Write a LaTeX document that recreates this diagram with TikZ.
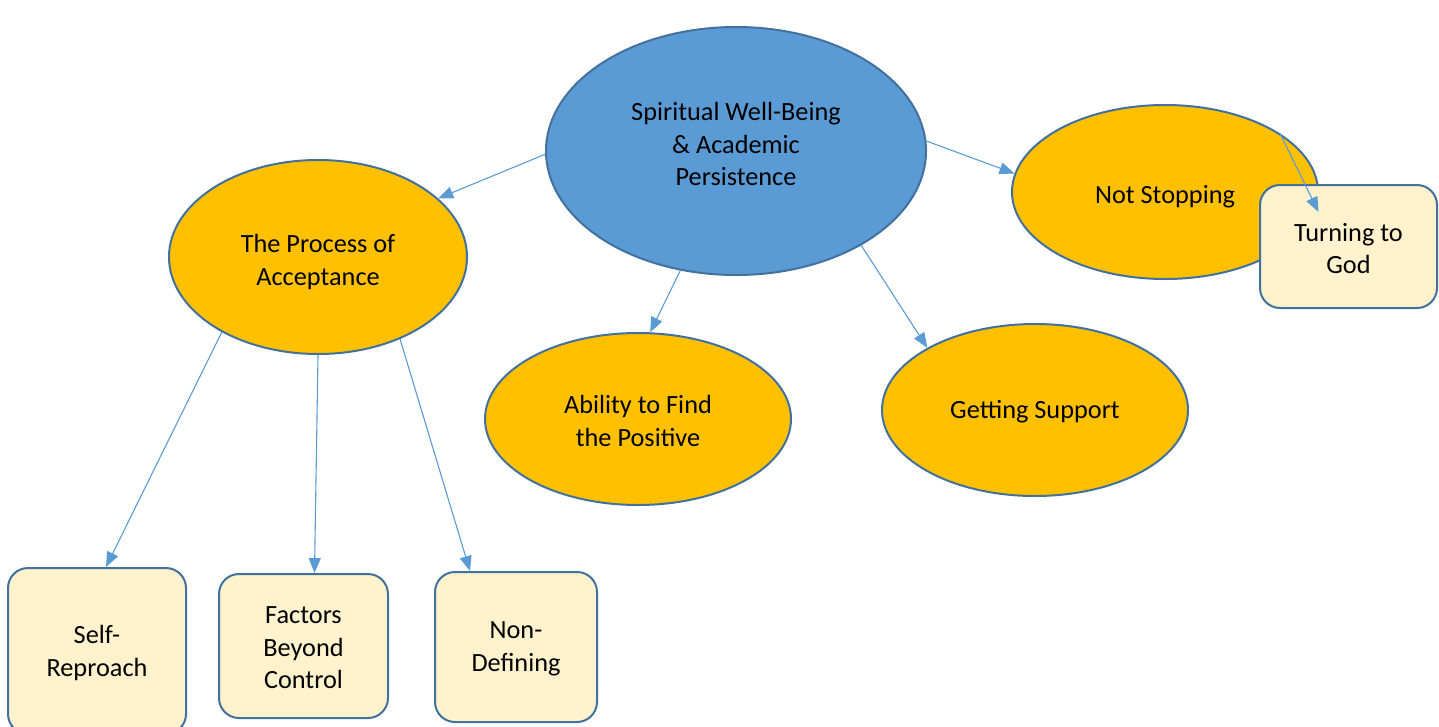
\documentclass[tikz,border=0pt]{standalone}
\usepackage{fontspec}
\setmainfont{Carlito}
\usetikzlibrary{shapes.geometric,arrows.meta}
\definecolor{edgeblue}{HTML}{41719C}
\definecolor{arrowblue}{HTML}{5B9BD5}
\definecolor{centerblue}{HTML}{5B9BD5}
\definecolor{gold}{HTML}{FFC000}
\definecolor{cream}{HTML}{FFF2CC}
\tikzset{
  txt/.style={align=center, font=\fontsize{26.3}{32.5}\selectfont, inner sep=0pt},
  oval/.style={ellipse, draw=edgeblue, line width=2pt, fill=gold, inner sep=0pt},
  leafbox/.style={rectangle, rounded corners=20pt, draw=edgeblue, line width=2pt, fill=cream, inner sep=0pt},
  link/.style={draw=arrowblue, line width=1.1pt, -{Triangle[length=15pt,width=12pt]}}
}
\begin{document}
\begin{tikzpicture}[x=1pt,y=-1pt]
\useasboundingbox (0,0) rectangle (1439,726);
% ellipses
\node[oval, fill=centerblue, minimum width=380pt, minimum height=248pt,
  label={[txt, yshift=7pt]center:{Spiritual Well-Being\\\& Academic\\Persistence}}] (c) at (736,151) {};
\node[oval, minimum width=298pt, minimum height=194pt,
  label={[txt, yshift=-5pt]center:{The Process of\\Acceptance}}] (p) at (318,257) {};
\node[oval, minimum width=306pt, minimum height=174pt,
  label={[txt, yshift=-5pt]center:{Not Stopping}}] (ns) at (1165,192) {};
\node[oval, minimum width=306pt, minimum height=172pt,
  label={[txt, yshift=-2pt]center:{Ability to Find\\the Positive}}] (ab) at (638,419) {};
\node[oval, minimum width=306pt, minimum height=172pt,
  label={[txt, yshift=-2pt]center:{Getting Support}}] (gs) at (1035,410) {};
% boxes
\node[leafbox, minimum width=177pt, minimum height=123pt,
  label={[txt, yshift=-2pt]center:{Turning to\\God}}] (tg) at (1348.5,246.5) {};
\node[leafbox, minimum width=178pt, minimum height=166pt,
  label={[txt, yshift=-2pt]center:{Self-\\Reproach}}] (sr) at (97,651) {};
\node[leafbox, minimum width=169pt, minimum height=144pt,
  label={[txt, yshift=-2pt]center:{Factors\\Beyond\\Control}}] (fb) at (303.5,646) {};
\node[leafbox, minimum width=162pt, minimum height=150pt,
  label={[txt, yshift=-2pt]center:{Non-\\Defining}}] (nd) at (516,647) {};
% connectors
\draw[link] (c.181) -- (p.26.6);
\draw[link] (c.245) -- (ab.82);
\draw[link] (c.323) -- (gs.150.6);
\draw[link] (c.3.3) -- (ns.173.2);
\draw[link] (ns.27) -- ([xshift=-30pt,yshift=-28pt]tg.north);
\draw[link] (p.218.6) -- ([xshift=9pt]sr.north);
\draw[link] (p.270) -- ([xshift=11pt]fb.north);
\draw[link] (p.315.3) -- ([xshift=-46pt]nd.north);
\end{tikzpicture}
\end{document}
